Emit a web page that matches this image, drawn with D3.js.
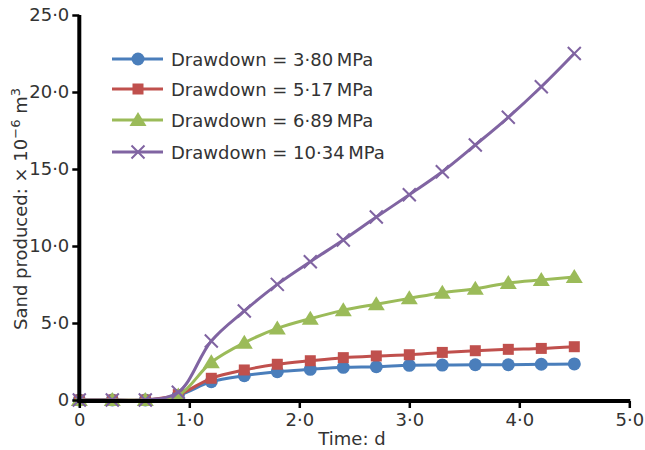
<!DOCTYPE html>
<html><head><meta charset="utf-8">
<script src="https://cdn.jsdelivr.net/npm/d3@7"></script>
<style>
html,body{margin:0;padding:0;background:#fff;}
svg{display:block;font-family:"DejaVu Sans",sans-serif;}
</style></head>
<body>
<svg id="chart" width="645" height="450"></svg>
<script>
const times = [0,0.3,0.6,0.9,1.2,1.5,1.8,2.1,2.4,2.7,3.0,3.3,3.6,3.9,4.2,4.5];
const seriesNames = ["Drawdown = 3·80\u2009MPa","Drawdown = 5·17\u2009MPa","Drawdown = 6·89\u2009MPa","Drawdown = 10·34\u2009MPa"];
const s380 = [0,0,0,0.3,1.19,1.58,1.84,1.99,2.12,2.16,2.25,2.27,2.29,2.29,2.32,2.34];
const s517 = [0,0,0,0.35,1.41,1.95,2.32,2.55,2.75,2.86,2.94,3.09,3.2,3.29,3.35,3.46];
const s689 = [0,0,0,0.3,2.45,3.72,4.65,5.28,5.82,6.22,6.6,6.97,7.23,7.6,7.8,7.98];
const s1034 = [0,0,0,0.5,3.83,5.78,7.51,8.98,10.39,11.88,13.33,14.82,16.56,18.36,20.34,22.5];
const seriesValues = [s380,s517,s689,s1034];
const colors = ["#4A7EBB","#C0504D","#9BBB59","#8064A2"];
const markers = ["circle","square","triangle","cross"];
const xTicks = [0,1,2,3,4,5];
const xTickLabels = ["0","1·0","2·0","3·0","4·0","5·0"];
const yTicks = [0,5,10,15,20,25];
const yTickLabels = ["0","5·0","10·0","15·0","20·0","25·0"];

const svg = d3.select("#chart");
const x = d3.scaleLinear().domain([0,5]).range([79.3,629.3]);
const y = d3.scaleLinear().domain([0,25]).range([400,15]);
const textColor = "#333333";
const FONT = "'DejaVu Sans',sans-serif";

const line = d3.line().x((d,i)=>x(times[i])).y(d=>y(d)).curve(d3.curveCatmullRom.alpha(0.5));

function drawMarker(g, type, color, cx, cy){
  if(type==="circle"){
    g.append("circle").attr("cx",cx).attr("cy",cy).attr("r",6.5).attr("fill",color);
  } else if(type==="square"){
    g.append("rect").attr("x",cx-5.5).attr("y",cy-5.5).attr("width",11).attr("height",11).attr("fill",color);
  } else if(type==="triangle"){
    g.append("path").attr("d",`M${cx},${cy-8}L${cx+8.5},${cy+6}L${cx-8.5},${cy+6}Z`).attr("fill",color);
  } else {
    g.append("path").attr("d",`M${cx-6.5},${cy-6.5}L${cx+6.5},${cy+6.5}M${cx+6.5},${cy-6.5}L${cx-6.5},${cy+6.5}`)
      .attr("stroke",color).attr("stroke-width",2);
  }
}

seriesValues.forEach((vals,si)=>{
  const g = svg.append("g");
  g.append("path").datum(vals).attr("d",line).attr("fill","none")
    .attr("stroke",colors[si]).attr("stroke-width",3);
  vals.forEach((v,i)=>drawMarker(g, markers[si], colors[si], x(times[i]), y(v)));
});

// axes
const xAxis = d3.axisBottom(x).tickValues(xTicks).tickFormat((d,i)=>xTickLabels[i]).tickSize(7).tickPadding(5);
const gx = svg.append("g").attr("transform","translate(0,401)").call(xAxis);
gx.select(".domain").attr("d",`M${x(0)-2},0H${x(5)+1}`).attr("stroke","#000").attr("stroke-width",4);
gx.selectAll(".tick line").attr("stroke","#000").attr("stroke-width",2.5);
gx.selectAll(".tick text").attr("fill",textColor).style("font-size","18px").style("font-family",FONT);

const yAxis = d3.axisLeft(y).tickValues(yTicks).tickFormat((d,i)=>yTickLabels[i]).tickSize(7).tickPadding(3);
const gy = svg.append("g").attr("transform","translate(79.3,0)").call(yAxis);
gy.select(".domain").attr("d",`M0,${y(25)}V${y(0)+2}`).attr("stroke","#000").attr("stroke-width",4);
gy.selectAll(".tick line").attr("stroke","#000").attr("stroke-width",2.5);
gy.selectAll(".tick text").attr("fill",textColor).style("font-size","18px").style("font-family",FONT);

// axis titles
svg.append("text").attr("x",352).attr("y",445).attr("text-anchor","middle")
  .attr("fill",textColor).style("font-size","18px").text("Time: d");

const yt = svg.append("text").attr("transform","translate(27,209) rotate(-90)").attr("text-anchor","middle")
  .attr("fill",textColor).style("font-size","18px");
yt.append("tspan").text("Sand produced: × 10");
yt.append("tspan").attr("dy",-7).style("font-size","13px").text("\u22126");
yt.append("tspan").attr("dy",7).text(" m");
yt.append("tspan").attr("dy",-7).style("font-size","13px").text("3");

// legend
const legY = [59,89,120,152];
seriesNames.forEach((name,si)=>{
  const g = svg.append("g");
  g.append("line").attr("x1",112).attr("x2",163).attr("y1",legY[si]).attr("y2",legY[si])
    .attr("stroke",colors[si]).attr("stroke-width",3);
  drawMarker(g, markers[si], colors[si], 138, legY[si]);
  g.append("text").attr("x",171).attr("y",legY[si]+6.5).attr("fill",textColor)
    .style("font-size","18px").text(name);
});
</script>
</body></html>
